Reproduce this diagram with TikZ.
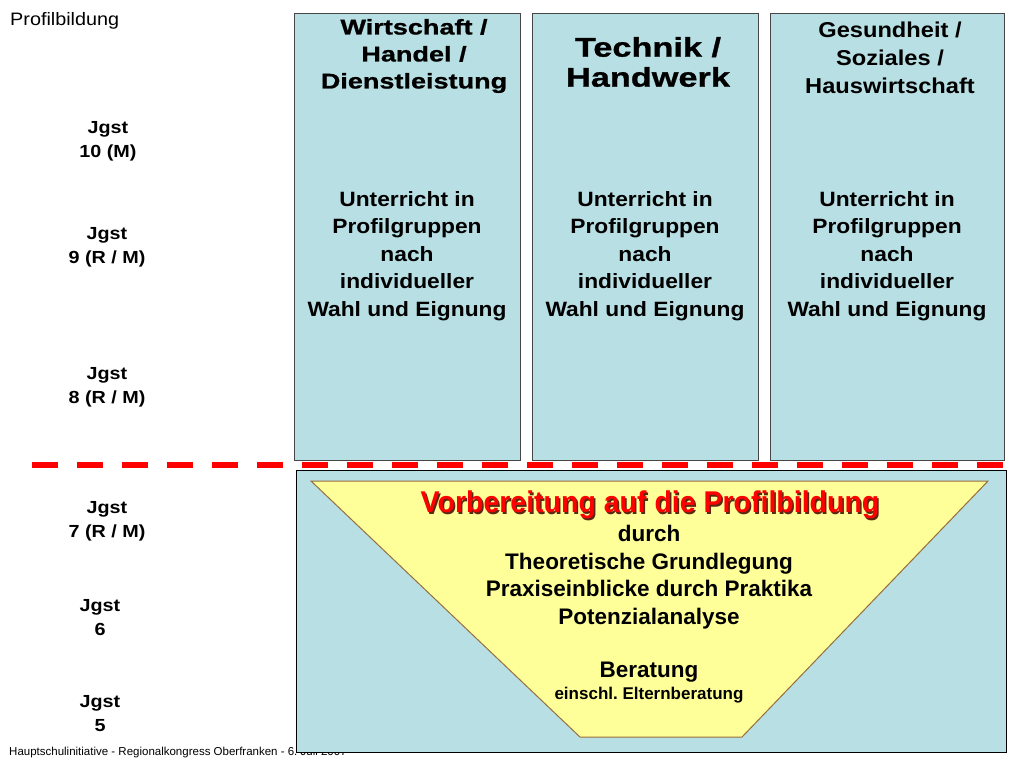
\documentclass[tikz,border=0pt]{standalone}
\usepackage{fontspec}
\setmainfont{Liberation Sans}
\newfontfamily\widebf[FakeStretch=1.27,FakeBold=1]{Liberation Sans Bold}
\newfontfamily\hbf[FakeStretch=1.1]{Liberation Sans Bold}
\newfontfamily\lblbf[FakeStretch=1.13]{Liberation Sans Bold}
\newfontfamily\titlebf[FakeStretch=0.95]{Liberation Sans Bold}
\newfontfamily\plainbf{Liberation Sans Bold}
\newfontfamily\profrm[FakeStretch=1.1]{Liberation Sans}
\definecolor{boxblue}{RGB}{184,223,227}
\definecolor{boxline}{RGB}{70,70,70}
\definecolor{trapfill}{RGB}{255,255,153}
\definecolor{trapline}{RGB}{150,110,60}
\definecolor{shadowc}{RGB}{90,40,20}
\frenchspacing
\tikzset{
  colbox/.style={draw=boxline, line width=1pt, fill=boxblue, anchor=north west, inner sep=0pt},
  lbl/.style={align=center, font=\lblbf\fontsize{17.5}{24}\selectfont, inner sep=0pt},
  body/.style={align=center, font=\hbf\fontsize{20.7}{27.5}\selectfont, inner sep=0pt},
  trapt/.style={align=center, font=\plainbf\fontsize{22.5}{27.5}\selectfont, inner sep=0pt},
}
\begin{document}
\begin{tikzpicture}[x=1pt,y=-1pt]
\useasboundingbox (0,0) rectangle (1024,768);
% footer (partly hidden by bottom box)
\node[anchor=west, inner sep=0pt, font=\fontsize{11.5}{13}\selectfont] (foot) at (9,753) {Hauptschulinitiative - Regionalkongress Oberfranken - 6. Juli 2007};
\node[anchor=west, inner sep=0pt, font=\profrm\fontsize{18}{21}\selectfont] (title) at (10,21) {Profilbildung};
% column boxes
\node[colbox, minimum width=226pt, minimum height=447pt] (b1) at (294,13) {};
\node[colbox, minimum width=226pt, minimum height=447pt] (b2) at (532,13) {};
\node[colbox, minimum width=234pt, minimum height=447pt] (b3) at (770,13) {};
% headers
\node[align=center, inner sep=0pt, font=\widebf\fontsize{21.3}{27}\selectfont] (h1) at (414,56) {Wirtschaft /\\Handel /\\Dienstleistung};
\node[align=center, inner sep=0pt, font=\widebf\fontsize{27}{30}\selectfont] (h2) at (648,62) {Technik /\\Handwerk};
\node[align=center, inner sep=0pt, font=\hbf\fontsize{21.5}{28}\selectfont] (h3) at (890,58) {Gesundheit /\\Soziales /\\Hauswirtschaft};
% body text
\node[body] (t1) at (407,256) {Unterricht in\\Profilgruppen\\nach\\individueller\\Wahl und Eignung};
\node[body] (t2) at (645,256) {Unterricht in\\Profilgruppen\\nach\\individueller\\Wahl und Eignung};
\node[body] (t3) at (887,256) {Unterricht in\\Profilgruppen\\nach\\individueller\\Wahl und Eignung};
% grade labels
\node[lbl] (j10) at (108,141) {Jgst\\10 (M)};
\node[lbl] (j9) at (107,247) {Jgst\\9 (R / M)};
\node[lbl] (j8) at (107,387) {Jgst\\8 (R / M)};
\node[lbl] (j7) at (107,521) {Jgst\\7 (R / M)};
\node[lbl] (j6) at (100,618) {Jgst\\6};
\node[lbl] (j5) at (100,714) {Jgst\\5};
% dashed separator
\coordinate (dl) at (32,465);
\coordinate (dr) at (1012,465);
\draw[red, line width=6pt, dash pattern=on 26pt off 19pt] (dl) -- (dr);
% bottom box
\node[colbox, draw=black, line width=1.3pt, minimum width=710pt, minimum height=282pt] (bb) at (296,470) {};
% trapezoid
\draw[trapline, line width=1pt, fill=trapfill] (311,481) -- (988,481) -- (742,737) -- (580,737) -- cycle;
% trapezoid text
\node[trapt, text=shadowc, font=\titlebf\fontsize{30}{32}\selectfont] (vsh) at (651.5,506.5) {Vorbereitung auf die Profilbildung};
\node[trapt, text=red, font=\titlebf\fontsize{30}{32}\selectfont] (vor) at (650,505) {Vorbereitung auf die Profilbildung};
\node[trapt] (blk) at (649,577) {durch\\Theoretische Grundlegung\\Praxiseinblicke durch Praktika\\Potenzialanalyse};
\node[trapt] (ber) at (649,672) {Beratung};
\node[trapt, font=\plainbf\fontsize{17}{19}\selectfont] (ein) at (649,695) {einschl. Elternberatung};
\end{tikzpicture}
\end{document}
